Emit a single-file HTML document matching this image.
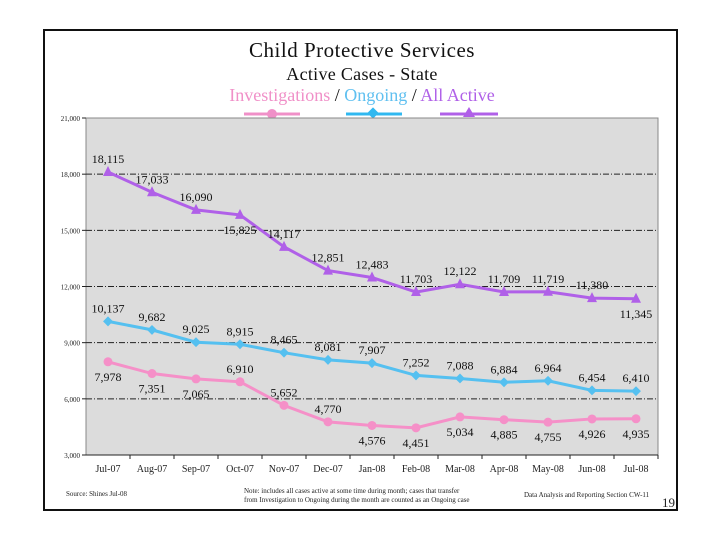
<!DOCTYPE html>
<html><head><meta charset="utf-8"><style>
body{margin:0;background:#fff;}
svg text{font-family:"Liberation Serif",serif;}
</style></head><body>
<svg id="c" width="720" height="540" xmlns="http://www.w3.org/2000/svg">
<rect x="44" y="30" width="633" height="480" fill="#fff" stroke="#111" stroke-width="2"/>
<text x="362" y="57" font-size="21" letter-spacing="0.5" text-anchor="middle" fill="#111">Child Protective Services</text>
<text x="362" y="80" font-size="18" letter-spacing="0.3" text-anchor="middle" fill="#111">Active Cases - State</text>
<text x="362" y="101" font-size="18" text-anchor="middle"><tspan fill="#f090c8">Investigations</tspan><tspan fill="#111"> / </tspan><tspan fill="#60c0f0">Ongoing</tspan><tspan fill="#111"> / </tspan><tspan fill="#b060e8">All Active</tspan></text>
<g>
<line x1="244" y1="114" x2="300" y2="114" stroke="#f090c8" stroke-width="3"/><circle cx="272" cy="114" r="5" fill="#f090c8"/>
<line x1="346" y1="114" x2="402" y2="114" stroke="#30b8f0" stroke-width="3"/><rect x="369" y="109" width="8" height="8" fill="#30b8f0" transform="rotate(45 373 113)"/>
<line x1="440" y1="114" x2="498" y2="114" stroke="#b060e8" stroke-width="3"/><polygon points="469,107 475,117 463,117" fill="#b060e8"/>
</g>
<rect x="86" y="118" width="572" height="337" fill="#dcdcdc" stroke="#888"/>
<g id="g"></g>
<text x="66" y="496" font-size="7" fill="#222">Source: Shines    Jul-08</text>
<text x="244" y="493" font-size="7" fill="#222"><tspan x="244">Note:  includes all cases active at some time during month; cases that transfer</tspan><tspan x="244" dy="9">from Investigation to Ongoing during the month are counted as an Ongoing case</tspan></text>
<text x="524" y="497" font-size="7" fill="#222">Data Analysis and Reporting Section  CW-11</text>
<text x="662" y="507" font-size="13" font-family="Liberation Sans" fill="#222">19</text>
</svg>
<script>
const categories=["Jul-07","Aug-07","Sep-07","Oct-07","Nov-07","Dec-07","Jan-08","Feb-08","Mar-08","Apr-08","May-08","Jun-08","Jul-08"];
const investigations=[7978,7351,7065,6910,5652,4770,4576,4451,5034,4885,4755,4926,4935];
const ongoing=[10137,9682,9025,8915,8465,8081,7907,7252,7088,6884,6964,6454,6410];
const allActive=[18115,17033,16090,15825,14117,12851,12483,11703,12122,11709,11719,11380,11345];
const yTicks=[3000,6000,9000,12000,15000,18000,21000];
const invLabelAbove=[0,0,0,1,1,1,0,0,0,0,0,0,0];
const allLabelAbove=[1,1,1,0,1,1,1,1,1,1,1,1,0];
const NS="http://www.w3.org/2000/svg",g=document.getElementById('g');
const L=86,R=658,T=118,B=455,bw=(R-L)/categories.length;
const x=i=>L+bw*(i+0.5), y=v=>B-(v-3000)/18000*(B-T);
function mk(t,a){const e=document.createElementNS(NS,t);for(const k in a)e.setAttribute(k,a[k]);g.appendChild(e);return e;}
yTicks.forEach(v=>{
 if(v>3000&&v<21000){const l=mk('line',{x1:L,x2:R,y1:y(v),y2:y(v),stroke:'#222','stroke-dasharray':'6,2,1,2'});
 
 }
 const tk=mk('line',{x1:L-4,x2:L,y1:y(v),y2:y(v),stroke:'#222'});
 
 
 const t=mk('text',{x:L-6,y:y(v)+3,'font-size':7,'text-anchor':'end',fill:'#222'});t.textContent=v.toLocaleString('en-US');
 
 
});
mk('line',{x1:L,x2:R,y1:B,y2:B,stroke:'#222'});
categories.forEach((c,i)=>{
 const tk=mk('line',{x1:L+bw*(i+1),x2:L+bw*(i+1),y1:B,y2:B+4,stroke:'#222'});
 
 
 const t=mk('text',{x:x(i),y:B+17,'font-size':10,'text-anchor':'middle',fill:'#222'});t.textContent=c;
 
 
});
function series(data,color,shape,name,above){
 const p=mk('polyline',{points:data.map((v,i)=>x(i)+','+y(v)).join(' '),fill:'none',stroke:color,'stroke-width':3});
 
 
 data.forEach((v,i)=>{
  let m;
  if(shape==='c')m=mk('circle',{cx:x(i),cy:y(v),r:4.5,fill:color});
  else if(shape==='d')m=mk('rect',{x:x(i)-3.5,y:y(v)-3.5,width:7,height:7,fill:color,transform:`rotate(45 ${x(i)} ${y(v)})`});
  else m=mk('polygon',{points:`${x(i)},${y(v)-6} ${x(i)+5},${y(v)+4} ${x(i)-5},${y(v)+4}`,fill:color});
  
  
  const up=above[i];
  const t=mk('text',{x:x(i),y:up?y(v)-9:y(v)+19,'font-size':12,'text-anchor':'middle',fill:'#111'});
  t.textContent=v.toLocaleString('en-US');
  
  
 });
}
series(investigations,'#f590c8','c','investigations',invLabelAbove);
series(ongoing,'#55c0f0','d','ongoing',ongoing.map(()=>1));
series(allActive,'#b060e8','t','all-active',allLabelAbove);
</script>
</body></html>
